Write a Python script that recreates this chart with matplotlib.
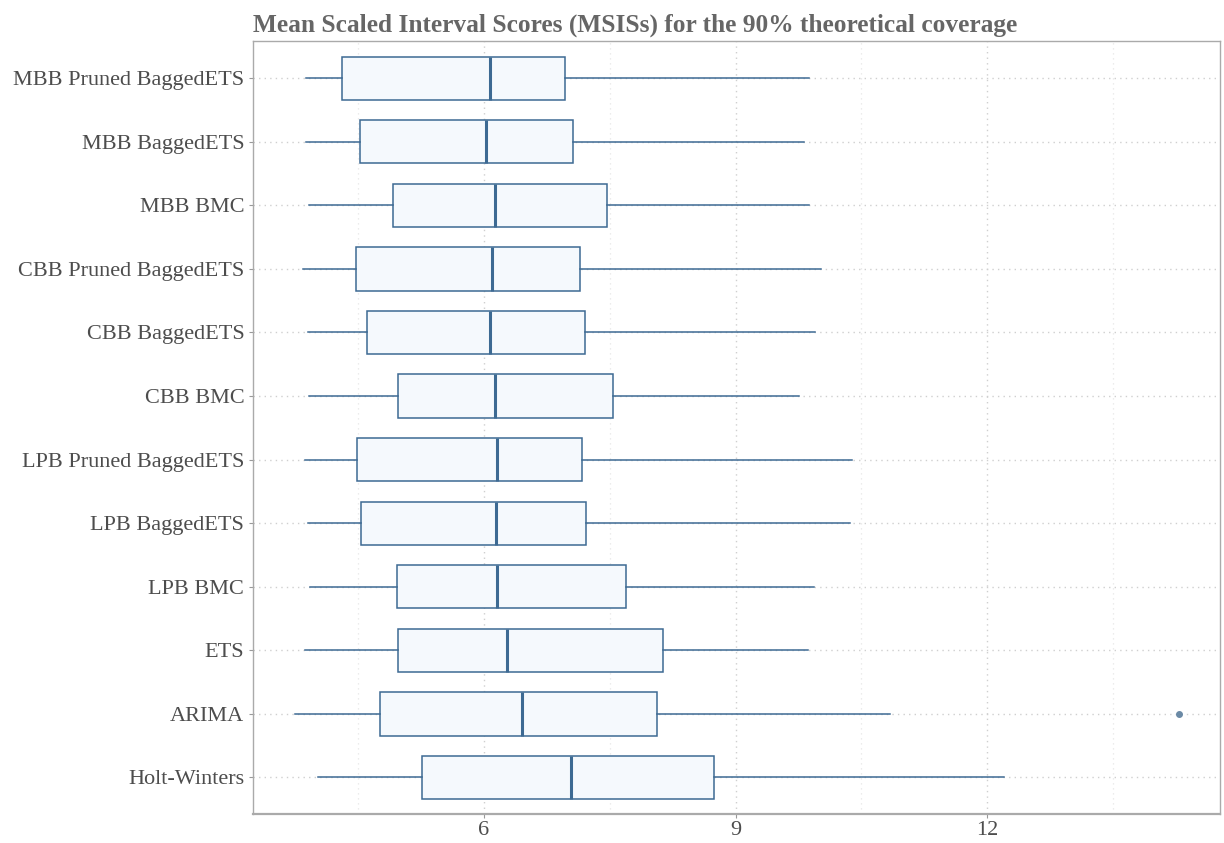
"""
Boxplot of MSIS values for the 90% theoretical coverage.
"""

import matplotlib.pyplot as plt
from matplotlib.ticker import MultipleLocator

methods = ["MBB Pruned BaggedETS", "MBB BaggedETS", "MBB BMC",
           "CBB Pruned BaggedETS", "CBB BaggedETS", "CBB BMC",
           "LPB Pruned BaggedETS", "LPB BaggedETS", "LPB BMC",
           "ETS", "ARIMA", "Holt-Winters"]

whisker_lo = [3.88, 3.88, 3.91, 3.84, 3.90, 3.91, 3.87, 3.90, 3.92, 3.87, 3.75, 4.02]
q1 = [4.31, 4.52, 4.92, 4.47, 4.60, 4.97, 4.49, 4.53, 4.96, 4.98, 4.76, 5.26]
median = [6.07, 6.02, 6.13, 6.10, 6.07, 6.13, 6.15, 6.14, 6.15, 6.27, 6.45, 7.04]
q3 = [6.97, 7.06, 7.47, 7.15, 7.20, 7.54, 7.17, 7.22, 7.69, 8.13, 8.06, 8.74]
whisker_hi = [9.87, 9.81, 9.87, 10.02, 9.95, 9.76, 10.39, 10.36, 9.93, 9.86, 10.84, 12.20]
outliers = [[], [], [], [], [], [], [], [], [], [], [14.29], []]

EDGE = "#3d6a93"
FILL = "#f5f9fd"


def build_chart():
    stats = []
    for i in range(len(methods)):
        stats.append({
            "whislo": whisker_lo[i], "q1": q1[i], "med": median[i],
            "q3": q3[i], "whishi": whisker_hi[i], "fliers": outliers[i],
        })

    fig = plt.figure(figsize=(12.24, 8.43), dpi=100)
    ax = fig.add_axes([0.207, 0.034, 0.79, 0.917])

    # first method on top
    positions = list(range(len(methods), 0, -1))
    ax.bxp(stats, positions=positions, vert=False, widths=0.68,
           patch_artist=True, showcaps=False,
           boxprops=dict(facecolor=FILL, edgecolor=EDGE, linewidth=1.1),
           whiskerprops=dict(color=EDGE, linewidth=1.1),
           medianprops=dict(color=EDGE, linewidth=2.2),
           flierprops=dict(marker="o", markersize=4, markerfacecolor="#6b8aa6",
                           markeredgecolor="#6b8aa6"),
           zorder=3)

    ax.set_xlim(3.25, 14.78)
    ax.set_ylim(0.42, len(methods) + 0.58)
    ax.xaxis.set_major_locator(MultipleLocator(3))
    ax.xaxis.set_minor_locator(MultipleLocator(1.5))
    ax.set_yticks(positions)
    ax.set_yticklabels(methods)

    ax.grid(which="major", linestyle=(0, (1, 3)), color="#cfcfcf", linewidth=1.0, zorder=0)
    ax.grid(which="minor", axis="x", linestyle=(0, (1, 3)), color="#e6e6e6",
            linewidth=0.9, zorder=0)
    ax.set_axisbelow(True)

    for s in ax.spines.values():
        s.set_color("#aaaaaa")
        s.set_linewidth(1.0)
    ax.spines["bottom"].set_linewidth(1.6)

    ax.tick_params(which="major", length=3, color="#999999", labelcolor="#4d4d4d")
    ax.tick_params(axis="y", labelsize=16)
    ax.tick_params(axis="x", labelsize=16, pad=1.5)
    ax.tick_params(which="minor", length=0)
    for lab in ax.get_xticklabels() + ax.get_yticklabels():
        lab.set_fontfamily("Liberation Serif")

    ax.set_title("Mean Scaled Interval Scores (MSISs) for the 90% theoretical coverage",
                 loc="left", fontsize=18.3, fontweight="bold", color="#666666",
                 fontfamily="Liberation Serif", pad=7)

    fig.savefig("out.png")
    plt.close(fig)


if __name__ == "__main__":
    build_chart()
